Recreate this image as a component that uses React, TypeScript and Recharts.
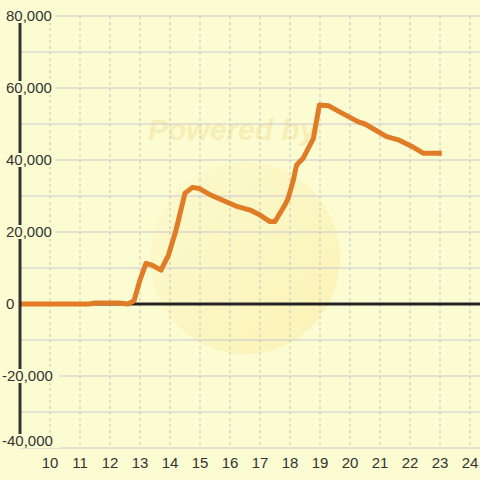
import { LineChart, Line, XAxis, YAxis, CartesianGrid, ReferenceLine } from 'recharts'

const hours = [
  9, 11.3, 11.5, 12.3, 12.6, 12.8, 13.0, 13.2, 13.4, 13.7, 13.95, 14.2, 14.5, 14.75, 14.97,
  15.3, 15.87, 16.2, 16.67, 17.0, 17.33, 17.5, 17.83, 17.94, 18.11, 18.22, 18.44, 18.78, 18.98,
  19.28, 19.67, 20.28, 20.5, 21.22, 21.61, 22.03, 22.44, 23.06,
]
const values = [
  0, 0, 300, 300, 0, 900, 6700, 11300, 10800, 9400, 13600, 20500, 30800, 32400, 32100,
  30500, 28400, 27200, 26100, 24700, 22900, 22900, 27500, 29400, 34400, 38600, 40500, 46000, 55300,
  55100, 53300, 50600, 50000, 46500, 45600, 43900, 41900, 41900,
]
const xTicks = [10, 11, 12, 13, 14, 15, 16, 17, 18, 19, 20, 21, 22, 23, 24]
const yTicks = [-40000, -20000, 0, 20000, 40000, 60000, 80000]
const yGrid = [-40000, -30000, -20000, -10000, 0, 10000, 20000, 30000, 40000, 50000, 60000, 70000, 80000]

const data = hours.map((h, i) => ({ h, v: values[i] }))

const BG = '#fcfcd2'

const YTick = (props: any) => {
  const { y, payload } = props
  const val = payload.value
  const label = val.toLocaleString('en-US')
  const neg = val < 0
  const x0 = neg ? 2 : 6
  const w = label.length * 8.2
  // bottom label is nudged up to stay inside the chart
  const ty = val === yTicks[0] ? y - 7 : y
  return (
    <g>
      <rect x={x0} y={ty - 7} width={w} height={14} fill={BG} />
      <text x={x0} y={ty + 5} textAnchor="start" fontSize={15} fill="#333">
        {label}
      </text>
    </g>
  )
}

export default function App() {
  return (
    <div style={{ position: 'absolute', left: 0, top: 0, width: 480, height: 480, background: BG, fontFamily: '"Liberation Sans", Arial, sans-serif' }}>
      <div
        style={{
          position: 'absolute', left: 150, top: 162, width: 190, height: 192, borderRadius: '50%',
          background: 'linear-gradient(135deg, rgba(252,246,200,0.5), rgba(249,236,160,0.55))',
        }}
      />
      <div
        style={{
          position: 'absolute', left: 148, top: 113, fontSize: 30, fontWeight: 'bold', fontStyle: 'italic',
          color: 'rgba(242,230,160,0.6)',
        }}
      >
        Powered by
      </div>
      <div style={{ position: 'absolute', left: 0, top: 0 }}>
        <LineChart width={480} height={480} data={data} margin={{ top: 16, right: 0, bottom: 0, left: 0 }}>
          <CartesianGrid vertical={false} horizontalValues={yGrid} stroke="#c8c8d2" />
          <CartesianGrid horizontal={false} verticalValues={xTicks} stroke="#c4c4c4" strokeDasharray="3 3" />
          <XAxis
            dataKey="h"
            type="number"
            domain={[9, 24.333]}
            ticks={xTicks}
            allowDataOverflow
            height={32}
            axisLine={false}
            tickLine={false}
            tick={{ fontSize: 15, fill: '#333' }}
            tickMargin={3}
          />
          <YAxis
            type="number"
            domain={[-40000, 80000]}
            ticks={yTicks}
            width={20}
            axisLine={{ stroke: '#333', strokeWidth: 3 }}
            tickLine={false}
            tick={<YTick />}
          />
          <ReferenceLine y={0} stroke="#222" strokeWidth={3} />
          <Line
            dataKey="v"
            type="linear"
            stroke="#e07b26"
            strokeWidth={5}
            dot={false}
            strokeLinejoin="round"
            isAnimationActive={false}
          />
        </LineChart>
      </div>
    </div>
  )
}
